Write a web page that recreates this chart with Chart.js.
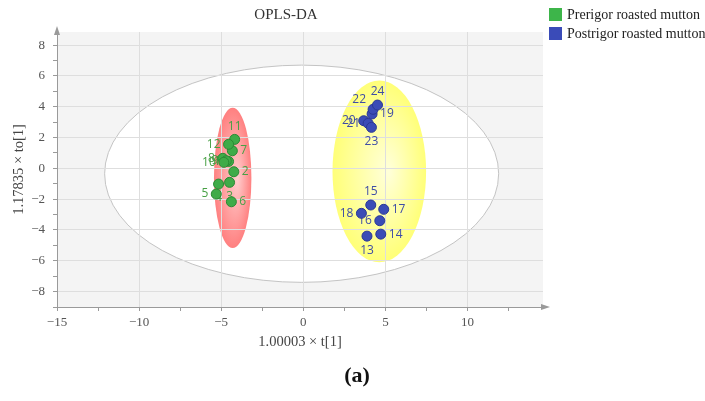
<!DOCTYPE html>
<html>
<head>
<meta charset="utf-8">
<script src="https://cdn.jsdelivr.net/npm/chart.js@4.4.1/dist/chart.umd.min.js"></script>
<style>
  html, body { margin: 0; padding: 0; background: #fff; }
  #wrap { width: 705px; height: 401px; }
</style>
</head>
<body>
<div id="wrap"><canvas id="oplsChart"></canvas></div>
<script>
// scores (t[1], to[1])
const preIds = [1, 2, 3, 4, 5, 6, 7, 8, 9, 10, 11, 12];
const preX = [-4.55, -4.23, -4.49, -5.16, -5.30, -4.38, -4.32, -4.90, -4.69, -4.84, -4.18, -4.55];
const preY = [0.45, -0.22, -0.91, -1.02, -1.67, -2.17, 1.14, 0.65, 0.49, 0.39, 1.88, 1.56];
const preSide = ['left', 'right', 'bottom', 'bottom', 'left', 'right', 'right', 'left', 'left', 'left', 'top', 'left'];

const postIds = [13, 14, 15, 16, 17, 18, 19, 20, 21, 22, 23, 24];
const postX = [3.88, 4.72, 4.11, 4.66, 4.90, 3.54, 4.19, 3.68, 3.95, 4.25, 4.15, 4.52];
const postY = [-4.40, -4.27, -2.38, -3.40, -2.66, -2.92, 3.53, 3.09, 2.92, 3.83, 2.66, 4.11];
const postSide = ['bottom', 'right', 'top', 'left', 'right', 'left', 'right', 'left', 'left', 'topleft', 'bottom', 'top'];

const seriesNames = ['Prerigor roasted mutton', 'Postrigor roasted mutton'];

// ellipses in data units: [cx, cy, rx, ry]
const hotelling = [-0.1, -0.35, 12.0, 7.05];
const preEllipse = [-4.3, -0.62, 1.14, 4.55];
const postEllipse = [4.63, -0.2, 2.85, 5.9];

const xTicks = [-15, -12.5, -10, -7.5, -5, -2.5, 0, 2.5, 5, 7.5, 10, 12.5];
const yTicks = [-9, -8, -7, -6, -5, -4, -3, -2, -1, 0, 1, 2, 3, 4, 5, 6, 7, 8];

const serif = 'Liberation Serif';

function toPoints(xs, ys) {
    return xs.map((x, i) => ({ x: x, y: ys[i] }));
}

function minus(v) {
    return String(v).replace('-', '\u2212');
}

function ellipseBox(chart, e) {
    const sx = chart.scales.x, sy = chart.scales.y;
    const cx = sx.getPixelForValue(e[0]);
    const cy = sy.getPixelForValue(e[1]);
    const rx = Math.abs(sx.getPixelForValue(e[0] + e[2]) - cx);
    const ry = Math.abs(sy.getPixelForValue(e[1] + e[3]) - cy);
    return { cx, cy, rx, ry };
}

// ellipse filled with a radial gradient that is squeezed along with it
function fillGradientEllipse(ctx, g, inner, outer, shift) {
    ctx.save();
    ctx.translate(g.cx, g.cy);
    ctx.scale(g.rx / g.ry, 1);
    ctx.translate(-g.cx, -g.cy);
    ctx.beginPath();
    ctx.arc(g.cx, g.cy, g.ry, 0, Math.PI * 2);
    const grad = ctx.createRadialGradient(g.cx + g.ry * shift, g.cy, 2, g.cx, g.cy, g.ry);
    grad.addColorStop(0, inner);
    grad.addColorStop(1, outer);
    ctx.fillStyle = grad;
    ctx.fill();
    ctx.restore();
}

// background, ellipses, labels, legend, title and caption
const decorPlugin = {
    id: 'decor',
    beforeDraw(chart) {
        const ctx = chart.ctx;
        const a = chart.chartArea;
        ctx.save();
        ctx.fillStyle = '#f4f4f4';
        ctx.fillRect(a.left, a.top, a.right - a.left, a.bottom - a.top);

        const h = ellipseBox(chart, hotelling);
        ctx.beginPath();
        ctx.ellipse(h.cx, h.cy, h.rx, h.ry, 0, 0, Math.PI * 2);
        ctx.fillStyle = '#ffffff';
        ctx.fill();
        ctx.strokeStyle = '#c4c4c4';
        ctx.lineWidth = 1;
        ctx.stroke();

        fillGradientEllipse(ctx, ellipseBox(chart, preEllipse), '#ffcccc', '#ff8080', 0.25);
        fillGradientEllipse(ctx, ellipseBox(chart, postEllipse), '#ffffd8', '#ffff78', 0.2);
        ctx.restore();
    },
    beforeDatasetsDraw(chart) {
        const ctx = chart.ctx;
        const sides = [preSide, postSide];
        const ids = [preIds, postIds];
        const colors = ['#48a045', '#3e4ca6'];
        ctx.save();
        ctx.font = '12px "Open Sans"';
        ctx.textBaseline = 'middle';
        chart.data.datasets.forEach((ds, di) => {
            const meta = chart.getDatasetMeta(di);
            meta.data.forEach((pt, i) => {
                const side = sides[di][i];
                let x = pt.x, y = pt.y;
                ctx.textAlign = 'center';
                if (side === 'left') { x -= 8; ctx.textAlign = 'right'; }
                if (side === 'right') { x += 8; ctx.textAlign = 'left'; }
                if (side === 'top') { y -= 13; }
                if (side === 'bottom') { y += 14; }
                if (side === 'topleft') { x -= 7; y -= 10; ctx.textAlign = 'right'; }
                ctx.fillStyle = colors[di];
                ctx.fillText(String(ids[di][i]), x, y);
            });
        });
        ctx.restore();
    },
    afterDraw(chart) {
        const ctx = chart.ctx;
        const a = chart.chartArea;
        ctx.save();
        // axis arrows
        ctx.fillStyle = '#9a9a9a';
        ctx.beginPath();
        ctx.moveTo(a.right + 7, a.bottom);
        ctx.lineTo(a.right - 2, a.bottom - 3);
        ctx.lineTo(a.right - 2, a.bottom + 3);
        ctx.fill();
        ctx.beginPath();
        ctx.moveTo(a.left, a.top - 6);
        ctx.lineTo(a.left - 3, a.top + 3);
        ctx.lineTo(a.left + 3, a.top + 3);
        ctx.fill();

        // title
        ctx.fillStyle = '#333';
        ctx.font = '15px "' + serif + '"';
        ctx.textAlign = 'center';
        ctx.textBaseline = 'middle';
        ctx.fillText('OPLS-DA', 286, 15);

        // legend
        const swatch = ['#3db54a', '#3a4bb8'];
        ctx.textAlign = 'left';
        ctx.font = '14px "' + serif + '"';
        seriesNames.forEach((name, i) => {
            ctx.fillStyle = swatch[i];
            ctx.fillRect(549, 8 + i * 19, 13, 13);
            ctx.fillStyle = '#222';
            ctx.fillText(name, 567, 15 + i * 19);
        });

        // caption
        ctx.font = 'bold 22px "' + serif + '"';
        ctx.textAlign = 'center';
        ctx.fillStyle = '#111';
        ctx.fillText('(a)', 357, 376);
        ctx.restore();
    }
};

const ctx = document.getElementById('oplsChart').getContext('2d');
new Chart(ctx, {
    type: 'scatter',
    data: {
        datasets: [{
            label: seriesNames[0],
            data: toPoints(preX, preY),
            backgroundColor: '#3fab48',
            borderColor: '#2a8a34',
            borderWidth: 1,
            pointRadius: 5
        }, {
            label: seriesNames[1],
            data: toPoints(postX, postY),
            backgroundColor: '#3b4cb6',
            borderColor: '#2b3995',
            borderWidth: 1,
            pointRadius: 5
        }]
    },
    options: {
        responsive: true,
        maintainAspectRatio: false,
        animation: false,
        layout: { padding: { top: 32, right: 162, bottom: 0, left: 0 } },
        scales: {
            x: {
                type: 'linear',
                min: -15,
                max: 14.6,
                afterBuildTicks: (scale) => { scale.ticks = xTicks.map(v => ({ value: v })); },
                afterFit: (scale) => { scale.height = 94; },
                ticks: {
                    autoSkip: false,
                    maxRotation: 0,
                    padding: 4,
                    color: '#555',
                    font: { family: serif, size: 13 },
                    callback: (v) => (v % 5 === 0 ? minus(v) : '')
                },
                grid: {
                    color: (c) => (c.tick && c.tick.value % 5 === 0 ? '#dedede' : 'rgba(0,0,0,0)'),
                    tickColor: '#9a9a9a',
                    tickLength: 4
                },
                border: { color: '#9a9a9a' },
                title: {
                    display: true,
                    text: '1.00003 \u00d7 t[1]',
                    color: '#444',
                    font: { family: serif, size: 14.5 },
                    padding: { top: 0, bottom: 50 }
                }
            },
            y: {
                type: 'linear',
                min: -9,
                max: 8.85,
                afterBuildTicks: (scale) => { scale.ticks = yTicks.map(v => ({ value: v })); },
                afterFit: (scale) => { scale.width = 57; },
                ticks: {
                    autoSkip: false,
                    padding: 8,
                    color: '#555',
                    font: { family: serif, size: 13 },
                    callback: (v) => (v % 2 === 0 ? minus(v) : '')
                },
                grid: {
                    color: (c) => (c.tick && c.tick.value % 2 === 0 ? '#dedede' : 'rgba(0,0,0,0)'),
                    tickColor: '#9a9a9a',
                    tickLength: 4
                },
                border: { color: '#9a9a9a' },
                title: {
                    display: true,
                    text: '1.17835 \u00d7 to[1]',
                    color: '#444',
                    font: { family: serif, size: 14.5 },
                    padding: { top: 10, bottom: 0 }
                }
            }
        },
        plugins: {
            legend: { display: false },
            title: { display: false },
            tooltip: { enabled: false }
        }
    },
    plugins: [decorPlugin]
});
</script>
</body>
</html>
